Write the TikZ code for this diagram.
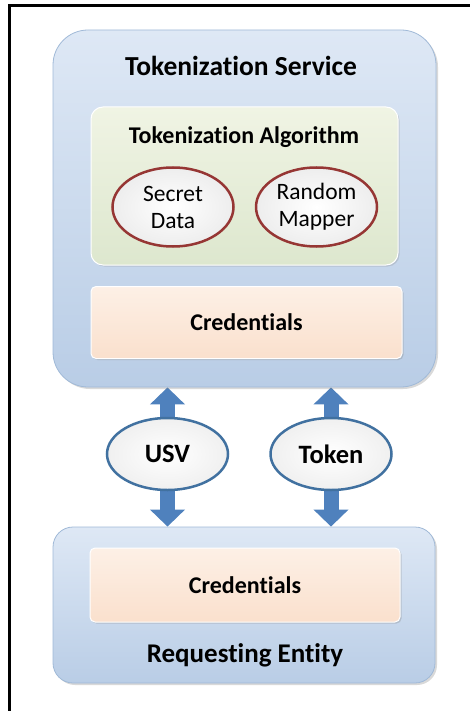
\documentclass[tikz,border=0pt]{standalone}
\usepackage{fontspec}
\setmainfont{Carlito}[Ligatures=CommonOff]
\usetikzlibrary{arrows.meta,shapes.geometric,shadows}
\definecolor{paleblue}{RGB}{185,205,230}
\definecolor{liteblue}{RGB}{222,232,245}
\definecolor{edgeblue}{RGB}{160,185,215}
\definecolor{palegreen}{RGB}{221,231,206}
\definecolor{litegreen}{RGB}{240,244,228}
\definecolor{peach}{RGB}{250,224,205}
\definecolor{litepeach}{RGB}{253,240,230}
\definecolor{darkred}{RGB}{150,54,52}
\definecolor{steelblue}{RGB}{65,113,160}
\definecolor{arrowblue}{RGB}{79,129,189}
\pgfdeclarelayer{bg}
\pgfsetlayers{bg,main}

\tikzset{
    panel/.style={draw=edgeblue, line width=0.8pt, top color=liteblue, bottom color=paleblue,
        drop shadow={opacity=0.3, shadow xshift=2pt, shadow yshift=-2pt}},
    algobox/.style={draw=white, line width=1pt, rounded corners=12pt, top color=litegreen, bottom color=palegreen,
        minimum width=307pt, minimum height=158pt,
        drop shadow={opacity=0.25, shadow xshift=1.5pt, shadow yshift=-1.5pt}},
    credbox/.style={draw=white, line width=1pt, rounded corners=5pt, top color=litepeach, bottom color=peach,
        minimum width=311pt, minimum height=72pt, font=\fontsize{24}{28}\selectfont\bfseries,
        drop shadow={opacity=0.3, shadow xshift=1.5pt, shadow yshift=-1.5pt}},
    partoval/.style={ellipse, draw=darkred, line width=2.5pt, inner color=white, outer color=black!7,
        minimum width=121pt, minimum height=79pt, inner sep=0pt, align=center,
        font=\fontsize{23.5}{27}\selectfont},
    msgoval/.style={ellipse, draw=steelblue, line width=2.5pt, inner color=white, outer color=black!6,
        minimum width=121pt, minimum height=72pt, inner sep=0pt,
        font=\fontsize{26.5}{30}\selectfont\bfseries},
    heading/.style={font=\fontsize{27.5}{32}\selectfont\bfseries},
    blockarrow/.style={draw=arrowblue, line width=15pt, -{Triangle[width=34pt,length=17pt]}}
}

\begin{document}
\begin{tikzpicture}[x=1pt,y=-1pt]
    \useasboundingbox (0,0) rectangle (470,711);

    \draw [line width=3pt] (9,711) -- (9,6) -- (470,6);

    % tokenization service
    \node [panel, rounded corners=35pt, minimum width=383pt, minimum height=357pt] (svc) at (244.5,208.5) {};
    \node [heading] (svctitle) at (241,66) {Tokenization Service};
    \node [algobox] (algo) at (244.5,186) {};
    \node [heading, font=\fontsize{24}{28}\selectfont\bfseries] (algotitle) at (244,137) {Tokenization Algorithm};
    \node [partoval] (secret) at (173,207) {Secret\\Data};
    \node [partoval] (mapper) at (316.5,207) {Random\\Mapper};
    \node [credbox] (svccred) at (246.5,322.5) {Credentials};

    % exchanged values
    \node [msgoval] (usv) at (167.5,454) {USV};
    \node [msgoval] (token) at (331,454) {Token};

    % requesting entity
    \node [panel, rounded corners=20pt, minimum width=382pt, minimum height=156pt] (req) at (244,605) {};
    \node [credbox, minimum width=310pt, minimum height=74pt] (reqcred) at (245,585) {Credentials};
    \node [heading, font=\fontsize{27}{32}\selectfont\bfseries] (reqtitle) at (245,655) {Requesting Entity};

    \begin{pgfonlayer}{bg}
    \draw [blockarrow] ([yshift=-3pt]usv.north) -- (usv.north |- svc.south);
    \draw [blockarrow] ([yshift=-3pt]token.north) -- (token.north |- svc.south);
    \draw [blockarrow] ([yshift=3pt]usv.south) -- (usv.south |- req.north);
    \draw [blockarrow] ([yshift=3pt]token.south) -- (token.south |- req.north);
    \end{pgfonlayer}
\end{tikzpicture}
\end{document}
